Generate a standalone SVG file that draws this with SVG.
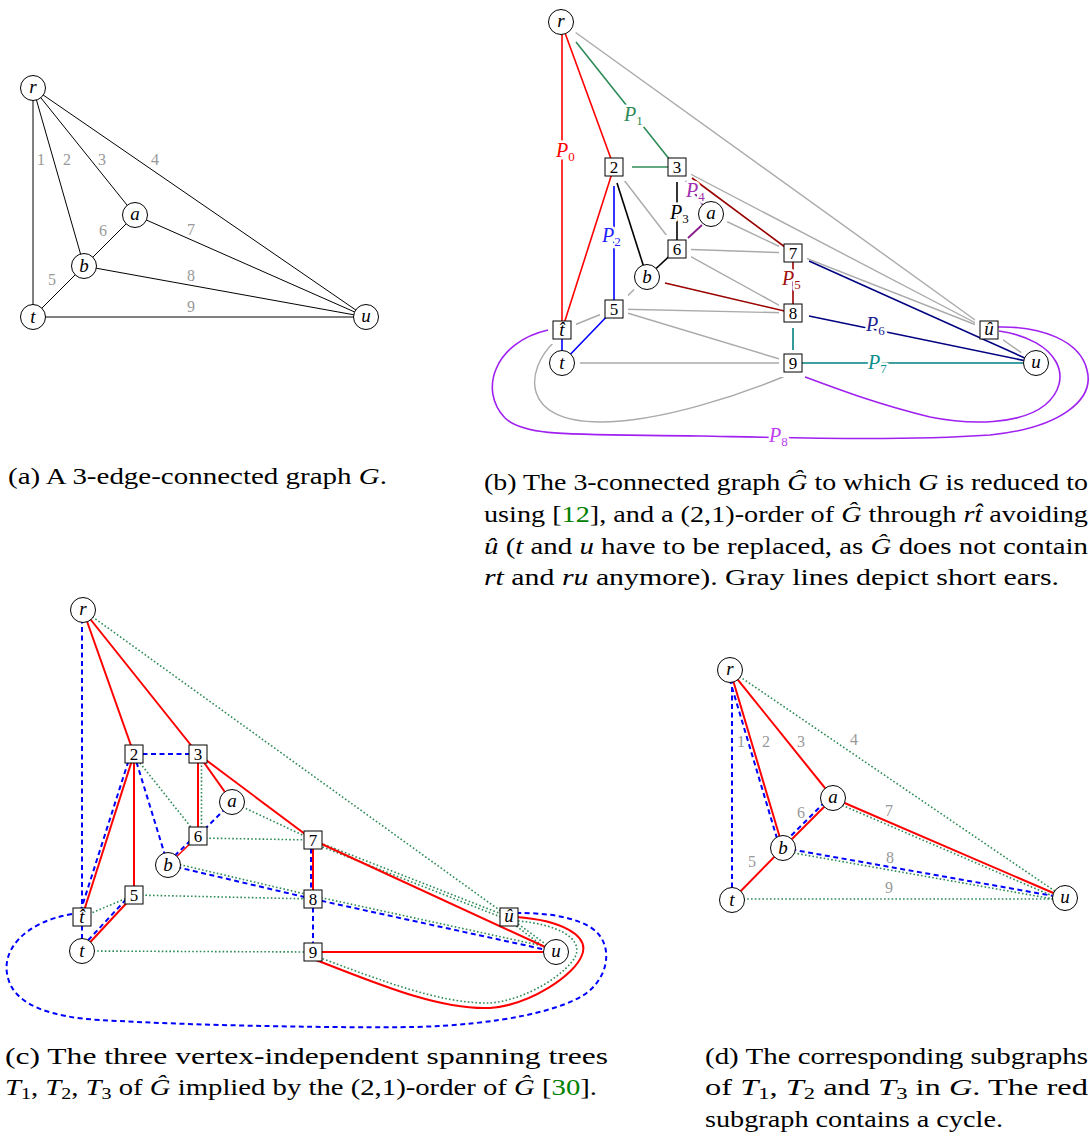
<svg xmlns="http://www.w3.org/2000/svg" width="1090" height="1138" viewBox="0 0 1090 1138">
<style>
.c{fill:#fff;stroke:#000;stroke-width:1}
.h{fill:#fff;stroke:none}
.v{font-family:"Liberation Serif","Times New Roman",serif;font-style:italic;font-size:19px;text-anchor:middle;fill:#000}
.d{font-family:"Liberation Serif","Times New Roman",serif;font-size:17px;text-anchor:middle;fill:#000}
.e{font-family:"Liberation Serif","Times New Roman",serif;font-size:16px;text-anchor:middle;fill:#999}
.k{stroke:#000;stroke-width:1;fill:none}
.g{stroke:#aaa;stroke-width:1.4;fill:none}
.p{font-family:"Liberation Serif","Times New Roman",serif;font-style:italic;font-size:20px;stroke:#fff;stroke-width:5;paint-order:stroke;stroke-linejoin:round}
.s{font-style:normal;font-size:13px}
.R{stroke:#f00;stroke-width:2;fill:none}
.B{stroke:#00f;stroke-width:2;stroke-dasharray:5 3.5;fill:none}
.G{stroke:#2e8b57;stroke-width:1.6;stroke-dasharray:1.6 2.2;fill:none}
.cap{font-family:"Liberation Serif","Times New Roman",serif;font-size:23px;fill:#000}
.i{font-style:italic}
.ref{fill:#008000}
</style>

<!-- ===== Panel (a) ===== -->
<g id="a-edges" class="k">
<line x1="33" y1="88" x2="33" y2="317"/>
<line x1="33" y1="88" x2="84" y2="266"/>
<line x1="33" y1="88" x2="135" y2="215"/>
<line x1="33" y1="88" x2="366" y2="317"/>
<line x1="135" y1="215" x2="84" y2="266"/>
<line x1="135" y1="215" x2="366" y2="317"/>
<line x1="84" y1="266" x2="366" y2="317"/>
<line x1="84" y1="266" x2="33" y2="317"/>
<line x1="33" y1="317" x2="366" y2="317"/>
</g>
<g id="a-edge-labels" class="e">
<text x="41" y="165">1</text><text x="67" y="165">2</text><text x="102" y="165">3</text><text x="155" y="165">4</text>
<text x="103" y="236">6</text><text x="191" y="235">7</text><text x="52" y="285">5</text><text x="191" y="281">8</text><text x="191" y="312">9</text>
</g>
<g id="a-r"><circle class="c" cx="33" cy="88" r="12.5"/><text class="v" x="33" y="93">r</text></g>
<g id="a-a"><circle class="c" cx="135" cy="215" r="12.5"/><text class="v" x="135" y="220">a</text></g>
<g id="a-b"><circle class="c" cx="84" cy="266" r="12.5"/><text class="v" x="84" y="272">b</text></g>
<g id="a-t"><circle class="c" cx="33" cy="317" r="12.5"/><text class="v" x="33" y="323">t</text></g>
<g id="a-u"><circle class="c" cx="366" cy="317" r="12.5"/><text class="v" x="366" y="322">u</text></g>

<!-- ===== Panel (b) ===== -->
<g id="b-connectors">
<g class="g">
<line x1="561" y1="22" x2="989" y2="330"/>
<line x1="677" y1="167" x2="989" y2="330"/>
<line x1="793" y1="253" x2="989" y2="330"/>
<line x1="614" y1="167" x2="677" y2="249"/>
<line x1="711" y1="214" x2="793" y2="253"/>
<line x1="677" y1="249" x2="793" y2="253"/>
<line x1="677" y1="249" x2="793" y2="313"/>
<line x1="647" y1="277" x2="614" y2="309"/>
<line x1="614" y1="309" x2="562" y2="330"/>
<line x1="614" y1="309" x2="793" y2="313"/>
<line x1="614" y1="309" x2="793" y2="363"/>
<line x1="562" y1="363" x2="793" y2="363"/>
<line x1="989" y1="330" x2="1036" y2="363"/>
<path d="M 554,342 C 525,370 520,422 600,422 C 660,422 740,395 790,374"/>
</g>
<g id="b-halos" class="h">
<circle cx="561" cy="22" r="18"/><circle cx="711" cy="214" r="18"/><circle cx="647" cy="277" r="18"/><circle cx="562" cy="363" r="18"/><circle cx="1036" cy="363" r="18"/>
<rect x="600" y="153" width="28" height="28"/><rect x="663" y="153" width="28" height="28"/><rect x="663" y="235" width="28" height="28"/>
<rect x="779" y="239" width="28" height="28"/><rect x="600" y="295" width="28" height="28"/><rect x="779" y="299" width="28" height="28"/>
<rect x="548" y="316" width="28" height="28"/><rect x="779" y="349" width="28" height="28"/><rect x="975" y="316" width="28" height="28"/>
</g>
<g stroke="#f00" stroke-width="1.6" fill="none">
<line x1="562" y1="22" x2="562" y2="330"/>
<line x1="561" y1="22" x2="614" y2="167"/>
<line x1="614" y1="167" x2="562" y2="330"/>
</g>
<g stroke="#2e8b57" stroke-width="1.6" fill="none">
<line x1="576" y1="42" x2="670" y2="160"/>
<line x1="632" y1="167" x2="668" y2="167"/>
</g>
<g stroke="#0000ff" stroke-width="1.6" fill="none">
<line x1="614" y1="186" x2="614" y2="309"/>
<line x1="614" y1="309" x2="562" y2="363"/>
<line x1="562" y1="330" x2="562" y2="363"/>
</g>
<g stroke="#000" stroke-width="1.6" fill="none">
<line x1="617" y1="183" x2="647" y2="277"/>
<line x1="647" y1="277" x2="677" y2="249"/>
<line x1="677" y1="182" x2="677" y2="249"/>
</g>
<g stroke="#8b1a8b" stroke-width="1.8" fill="none">
<line x1="686" y1="181" x2="703" y2="205"/>
<line x1="702" y1="225" x2="688" y2="238"/>
</g>
<g stroke="#990000" stroke-width="1.6" fill="none">
<line x1="692" y1="178" x2="793" y2="253"/>
<line x1="793" y1="253" x2="793" y2="313"/>
<line x1="665" y1="283" x2="793" y2="313"/>
</g>
<g stroke="#000080" stroke-width="1.6" fill="none">
<line x1="809" y1="261" x2="1036" y2="363"/>
<line x1="809" y1="316" x2="1036" y2="363"/>
</g>
<g stroke="#008080" stroke-width="1.6" fill="none">
<line x1="793" y1="328" x2="793" y2="350"/>
<line x1="802" y1="363" x2="1024" y2="363"/>
</g>
<g stroke="#a020f0" stroke-width="1.6" fill="none">
<path d="M 548,330 C 495,342 478,390 505,418 C 525,437 570,434 700,436 C 800,438 900,441 990,435 C 1060,428 1095,400 1087,370 C 1080,340 1040,326 998,327"/>
<path d="M 999,331 C 1060,340 1075,380 1045,405 C 1020,425 970,425 930,417 C 880,405 840,390 805,377"/>
</g>
</g>
<g id="b-path-labels">
<text class="p" x="556" y="157" fill="#f00">P<tspan class="s" dy="4">0</tspan></text>
<text class="p" x="624" y="121" fill="#2e8b57">P<tspan class="s" dy="4">1</tspan></text>
<text class="p" x="602" y="242" fill="#1f1fff">P<tspan class="s" dy="4">2</tspan></text>
<text class="p" x="670" y="219" fill="#000">P<tspan class="s" dy="4">3</tspan></text>
<text class="p" x="686" y="197" fill="#a030b0">P<tspan class="s" dy="4">4</tspan></text>
<text class="p" x="782" y="285" fill="#a01010">P<tspan class="s" dy="4">5</tspan></text>
<text class="p" x="866" y="331" fill="#202090">P<tspan class="s" dy="4">6</tspan></text>
<text class="p" x="868" y="369" fill="#108f8f">P<tspan class="s" dy="4">7</tspan></text>
<text class="p" x="769" y="442" fill="#c040f0">P<tspan class="s" dy="4">8</tspan></text>
</g>
<g id="b-r"><circle class="c" cx="561" cy="22" r="12.5"/><text class="v" x="561" y="27">r</text></g>
<g id="b-2"><rect class="c" x="605" y="158" width="18" height="18"/><text class="d" x="614" y="173">2</text></g>
<g id="b-3"><rect class="c" x="668" y="158" width="18" height="18"/><text class="d" x="677" y="173">3</text></g>
<g id="b-a"><circle class="c" cx="711" cy="214" r="12.5"/><text class="v" x="711" y="219">a</text></g>
<g id="b-6"><rect class="c" x="668" y="240" width="18" height="18"/><text class="d" x="677" y="255">6</text></g>
<g id="b-7"><rect class="c" x="784" y="244" width="18" height="18"/><text class="d" x="793" y="259">7</text></g>
<g id="b-b"><circle class="c" cx="647" cy="277" r="12.5"/><text class="v" x="647" y="283">b</text></g>
<g id="b-5"><rect class="c" x="605" y="300" width="18" height="18"/><text class="d" x="614" y="315">5</text></g>
<g id="b-8"><rect class="c" x="784" y="304" width="18" height="18"/><text class="d" x="793" y="319">8</text></g>
<g id="b-that"><rect class="c" x="553" y="321" width="18" height="18"/><text class="v" x="562" y="336" font-size="17">t̂</text></g>
<g id="b-t"><circle class="c" cx="562" cy="363" r="12.5"/><text class="v" x="562" y="369">t</text></g>
<g id="b-9"><rect class="c" x="784" y="354" width="18" height="18"/><text class="d" x="793" y="369">9</text></g>
<g id="b-uhat"><rect class="c" x="980" y="321" width="18" height="18"/><text class="v" x="989" y="335" font-size="17">û</text></g>
<g id="b-u"><circle class="c" cx="1036" cy="363" r="12.5"/><text class="v" x="1036" y="368">u</text></g>

<!-- ===== Panel (c) ===== -->
<g id="c-connectors">
<g class="G">
<line x1="83" y1="610" x2="509" y2="917"/>
<line x1="140" y1="763" x2="198" y2="836"/>
<line x1="201.5" y1="754" x2="201.5" y2="836"/>
<line x1="232" y1="802" x2="313" y2="840"/>
<line x1="198" y1="838" x2="313" y2="840"/>
<line x1="168.7" y1="862" x2="313.7" y2="896"/>
<line x1="134" y1="895" x2="313" y2="899"/>
<line x1="82" y1="917" x2="134" y2="895"/>
<line x1="82" y1="951" x2="313" y2="952"/>
<line x1="313" y1="840" x2="509" y2="917"/>
<line x1="311.9" y1="842.8" x2="507.9" y2="919.8"/>
<line x1="313.6" y1="896" x2="556.6" y2="949"/>
<line x1="509" y1="917" x2="556" y2="952"/>
<line x1="507.2" y1="919.4" x2="554.2" y2="954.4"/>
<path d="M 518,921 C 555,924 582,937 576,955 C 569,972 528,1000 490,1003 C 440,1004 380,980 318,957"/>
</g>
<g class="R">
<line x1="83" y1="610" x2="134" y2="754"/>
<line x1="83" y1="610" x2="198" y2="754"/>
<line x1="134" y1="754" x2="82" y2="917"/>
<line x1="134" y1="754" x2="134" y2="895"/>
<line x1="198" y1="754" x2="198" y2="836"/>
<line x1="198" y1="754" x2="232" y2="802"/>
<line x1="198" y1="754" x2="313" y2="840"/>
<line x1="313" y1="840" x2="313" y2="899"/>
<line x1="313" y1="840" x2="556" y2="952"/>
<line x1="313" y1="952" x2="556" y2="952"/>
<line x1="198" y1="836" x2="168" y2="865" stroke-width="1.4"/>
<line x1="134" y1="895" x2="82" y2="951"/>
<path d="M 516,917 C 560,920 590,935 582,955 C 575,975 530,1005 490,1008 C 440,1010 380,985 316,960"/>
</g>
<g class="B">
<line x1="82" y1="610" x2="82" y2="917"/>
<line x1="134" y1="754" x2="198" y2="754"/>
<line x1="131" y1="753" x2="79" y2="916"/>
<line x1="134" y1="754" x2="168" y2="865"/>
<line x1="232" y1="802" x2="198" y2="836"/>
<line x1="196.6" y1="834.6" x2="166.6" y2="863.6"/>
<line x1="168" y1="865" x2="313" y2="899"/>
<line x1="311" y1="840" x2="311" y2="899"/>
<line x1="313" y1="899" x2="313" y2="952"/>
<line x1="313" y1="899" x2="556" y2="952"/>
<line x1="82" y1="917" x2="82" y2="951"/>
<line x1="132" y1="893" x2="80" y2="949"/>
<path d="M 72,914 C 25,922 0,950 8,978 C 15,1005 50,1017 100,1020 C 200,1026 350,1028 413,1027 C 500,1025 565,1010 588,992 C 612,972 612,940 590,927 C 570,915 540,913 518,913"/>
</g>
</g>
<g id="c-r"><circle class="c" cx="83" cy="610" r="12.5"/><text class="v" x="83" y="615">r</text></g>
<g id="c-2"><rect class="c" x="125" y="745" width="18" height="18"/><text class="d" x="134" y="760">2</text></g>
<g id="c-3"><rect class="c" x="189" y="745" width="18" height="18"/><text class="d" x="198" y="760">3</text></g>
<g id="c-a"><circle class="c" cx="232" cy="802" r="12.5"/><text class="v" x="232" y="807">a</text></g>
<g id="c-6"><rect class="c" x="189" y="827" width="18" height="18"/><text class="d" x="198" y="842">6</text></g>
<g id="c-7"><rect class="c" x="304" y="831" width="18" height="18"/><text class="d" x="313" y="846">7</text></g>
<g id="c-b"><circle class="c" cx="168" cy="865" r="12.5"/><text class="v" x="168" y="871">b</text></g>
<g id="c-5"><rect class="c" x="125" y="886" width="18" height="18"/><text class="d" x="134" y="901">5</text></g>
<g id="c-8"><rect class="c" x="304" y="890" width="18" height="18"/><text class="d" x="313" y="905">8</text></g>
<g id="c-that"><rect class="c" x="73" y="908" width="18" height="18"/><text class="v" x="82" y="923" font-size="17">t̂</text></g>
<g id="c-t"><circle class="c" cx="82" cy="951" r="12.5"/><text class="v" x="82" y="957">t</text></g>
<g id="c-9"><rect class="c" x="304" y="943" width="18" height="18"/><text class="d" x="313" y="958">9</text></g>
<g id="c-uhat"><rect class="c" x="500" y="908" width="18" height="18"/><text class="v" x="509" y="922" font-size="17">û</text></g>
<g id="c-u"><circle class="c" cx="556" cy="952" r="12.5"/><text class="v" x="556" y="957">u</text></g>

<!-- ===== Panel (d) ===== -->
<g id="d-connectors">
<g class="G">
<line x1="730" y1="670" x2="1065" y2="898"/>
<line x1="831.8" y1="800.8" x2="1063.8" y2="900.8"/>
<line x1="782.5" y1="851" x2="1064.5" y2="901"/>
<line x1="732" y1="899" x2="1065" y2="899"/>
</g>
<g class="R">
<line x1="730" y1="670" x2="783" y2="848"/>
<line x1="730" y1="670" x2="833" y2="798"/>
<line x1="833" y1="798" x2="783" y2="848"/>
<line x1="833" y1="798" x2="1065" y2="898"/>
<line x1="783" y1="848" x2="732" y2="900"/>
</g>
<g class="B">
<line x1="732" y1="670" x2="732" y2="900"/>
<line x1="727.1" y1="670.9" x2="780.1" y2="848.9"/>
<line x1="830.9" y1="795.9" x2="780.9" y2="845.9"/>
<line x1="783" y1="848" x2="1065" y2="898"/>
</g>
</g>
<g id="d-edge-labels" class="e">
<text x="741" y="747">1</text><text x="766" y="747">2</text><text x="801" y="747">3</text><text x="854" y="745">4</text>
<text x="801" y="818">6</text><text x="889" y="816">7</text><text x="752" y="867">5</text><text x="890" y="863">8</text><text x="889" y="893">9</text>
</g>
<g id="d-r"><circle class="c" cx="730" cy="670" r="12.5"/><text class="v" x="730" y="675">r</text></g>
<g id="d-a"><circle class="c" cx="833" cy="798" r="12.5"/><text class="v" x="833" y="803">a</text></g>
<g id="d-b"><circle class="c" cx="783" cy="848" r="12.5"/><text class="v" x="783" y="854">b</text></g>
<g id="d-t"><circle class="c" cx="732" cy="900" r="12.5"/><text class="v" x="732" y="906">t</text></g>
<g id="d-u"><circle class="c" cx="1065" cy="898" r="12.5"/><text class="v" x="1065" y="903">u</text></g>

<!-- ===== Captions ===== -->
<g id="captions" class="cap">
<text x="8" y="484" textLength="379" lengthAdjust="spacingAndGlyphs">(a) A 3-edge-connected graph <tspan class="i">G</tspan>.</text>
<text x="484" y="490" textLength="604" lengthAdjust="spacingAndGlyphs">(b) The 3-connected graph <tspan class="i">Ĝ</tspan> to which <tspan class="i">G</tspan> is reduced to</text>
<text x="484" y="522" textLength="604" lengthAdjust="spacingAndGlyphs">using [<tspan class="ref">12</tspan>], and a (2,1)-order of <tspan class="i">Ĝ</tspan> through <tspan class="i">rt̂</tspan> avoiding</text>
<text x="484" y="554" textLength="604" lengthAdjust="spacingAndGlyphs"><tspan class="i">û</tspan> (<tspan class="i">t</tspan> and <tspan class="i">u</tspan> have to be replaced, as <tspan class="i">Ĝ</tspan> does not contain</text>
<text x="484" y="585" textLength="575" lengthAdjust="spacingAndGlyphs"><tspan class="i">rt</tspan> and <tspan class="i">ru</tspan> anymore). Gray lines depict short ears.</text>
<text x="5" y="1064" textLength="603" lengthAdjust="spacingAndGlyphs">(c) The three vertex-independent spanning trees</text>
<text x="5" y="1095" textLength="592" lengthAdjust="spacingAndGlyphs"><tspan class="i">T</tspan><tspan font-size="16" dy="4">1</tspan><tspan dy="-4">, </tspan><tspan class="i">T</tspan><tspan font-size="16" dy="4">2</tspan><tspan dy="-4">, </tspan><tspan class="i">T</tspan><tspan font-size="16" dy="4">3</tspan><tspan dy="-4"> of </tspan><tspan class="i">Ĝ</tspan> implied by the (2,1)-order of <tspan class="i">Ĝ</tspan> [<tspan class="ref">30</tspan>].</text>
<text x="705" y="1064" textLength="383" lengthAdjust="spacingAndGlyphs">(d) The corresponding subgraphs</text>
<text x="705" y="1095" textLength="383" lengthAdjust="spacingAndGlyphs">of <tspan class="i">T</tspan><tspan font-size="16" dy="4">1</tspan><tspan dy="-4">, </tspan><tspan class="i">T</tspan><tspan font-size="16" dy="4">2</tspan><tspan dy="-4"> and </tspan><tspan class="i">T</tspan><tspan font-size="16" dy="4">3</tspan><tspan dy="-4"> in </tspan><tspan class="i">G</tspan>. The red</text>
<text x="705" y="1127" textLength="298" lengthAdjust="spacingAndGlyphs">subgraph contains a cycle.</text>
</g>
</svg>
